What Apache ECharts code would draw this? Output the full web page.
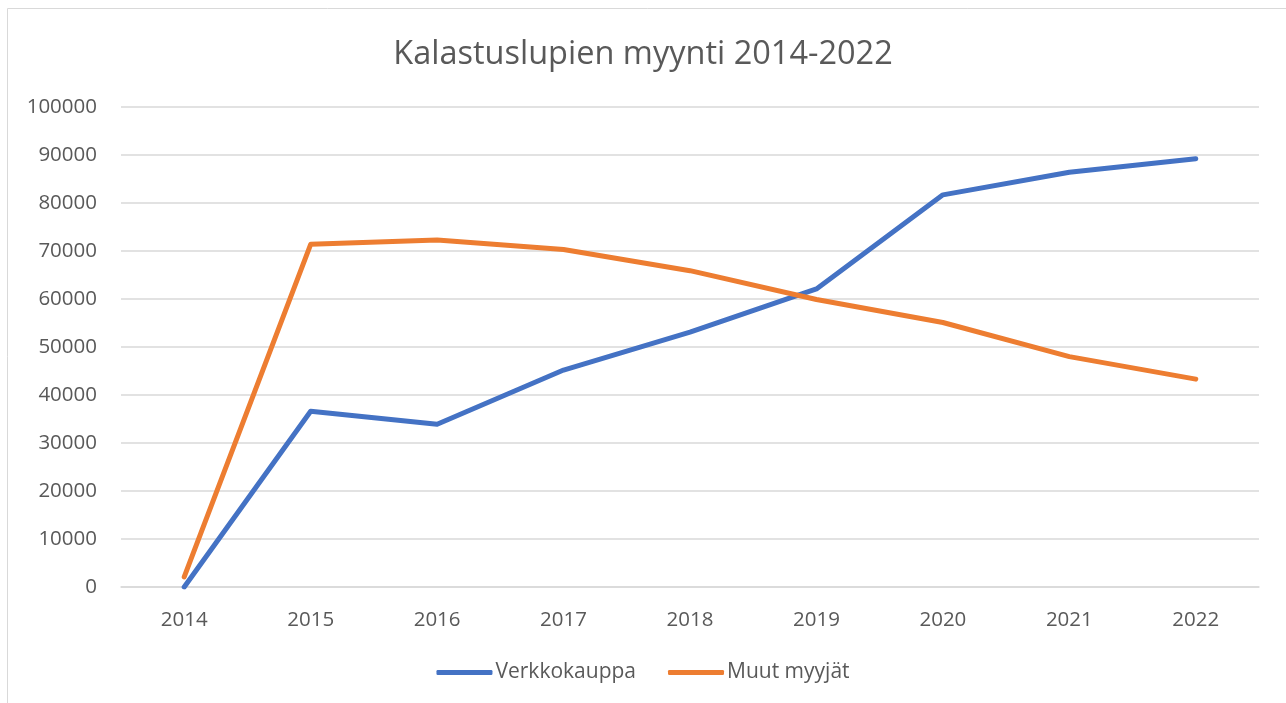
<!DOCTYPE html>
<html>
<head>
<meta charset="utf-8">
<script src="https://cdn.jsdelivr.net/npm/echarts@6/dist/echarts.min.js"></script>
<style>
  html, body { margin: 0; padding: 0; background: #fff; }
  #chart { width: 1286px; height: 703px; }
</style>
</head>
<body>
<div id="chart"></div>
<script>
// vuodet x-akselille
var years = ['2014', '2015', '2016', '2017', '2018', '2019', '2020', '2021', '2022'];
// myynti verkkokaupassa
var verkkokauppa = [0, 36600, 33900, 45200, 53100, 62100, 81700, 86400, 89200];
// muut myyjät
var muutMyyjat = [2100, 71400, 72300, 70300, 65900, 59900, 55100, 48000, 43300];
// y-akselin asteikko
var yMin = 0, yMax = 100000, yStep = 10000;

var txt = '#595959';
var font = '"Open Sans", "Noto Sans", sans-serif';

var myChart = echarts.init(document.getElementById('chart'));
var option = {
    animation: false,
    textStyle: { fontFamily: font },
    graphic: [{
        type: 'rect',
        shape: { x: 7.5, y: 8.5, width: 1290, height: 700 },
        style: { fill: 'none', stroke: '#d9d9d9', lineWidth: 1 },
        silent: true
    }],
    title: {
        text: 'Kalastuslupien myynti 2014-2022',
        left: 'center',
        top: 33,
        textStyle: { color: txt, fontSize: 32.5, fontWeight: 'normal', fontFamily: font }
    },
    legend: {
        bottom: 15,
        left: 'center',
        icon: 'roundRect',
        itemWidth: 56,
        itemHeight: 5,
        itemGap: 32,
        textStyle: { color: txt, fontSize: 21, fontFamily: font, padding: [0, 0, 0, -2] },
        data: ['Verkkokauppa', 'Muut myyjät']
    },
    grid: { left: 121, right: 27, top: 107, bottom: 116, containLabel: false },
    xAxis: {
        type: 'category',
        data: years,
        boundaryGap: true,
        axisTick: { show: false },
        axisLine: { show: true, lineStyle: { color: '#d9d9d9', width: 1.5 } },
        axisLabel: { color: txt, fontSize: 20.5, margin: 23, fontFamily: font }
    },
    yAxis: {
        type: 'value',
        min: yMin,
        max: yMax,
        interval: yStep,
        axisTick: { show: false },
        axisLine: { show: false },
        axisLabel: {
            color: txt, fontSize: 20.5, margin: 24, fontFamily: font,
            formatter: function (v) { return String(v); }
        },
        splitLine: { lineStyle: { color: '#d9d9d9', width: 1.5 } }
    },
    series: [{
        name: 'Verkkokauppa',
        type: 'line',
        data: verkkokauppa,
        symbol: 'none',
        itemStyle: { color: '#4472c4' },
        lineStyle: { color: '#4472c4', width: 5, cap: 'round', join: 'round' }
    }, {
        name: 'Muut myyjät',
        type: 'line',
        data: muutMyyjat,
        symbol: 'none',
        itemStyle: { color: '#ed7d31' },
        lineStyle: { color: '#ed7d31', width: 5, cap: 'round', join: 'round' }
    }]
};
myChart.setOption(option);
window.addEventListener('resize', function () { myChart.resize(); });
</script>
</body>
</html>
